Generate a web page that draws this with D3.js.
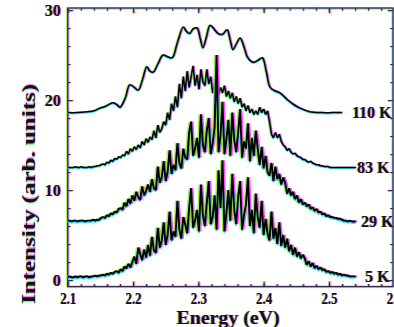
<!DOCTYPE html>
<html>
<head>
<meta charset="utf-8">
<script src="https://cdn.jsdelivr.net/npm/d3@7"></script>
<style>
  html, body { margin: 0; padding: 0; background: #fff; overflow: hidden; }
  svg { display: block; }
</style>
</head>
<body>
<div id="chart"></div>
<script>
const energyStart = 2.1;
const energyStep = 0.003;

const int5K = [
  0.3,0.4,0.3,0.3,0.4,0.3,0.4,0.4,0.3,0.4,0.4,0.3,0.4,0.4,0.5,0.4,0.5,
  0.5,0.6,0.5,0.7,0.6,0.8,0.7,0.9,1.0,0.8,
  1.2,1.0,1.5,1.3,1.8,1.4,2.0,
  2.6,1.8,3.6,2.9,2.2,3.4,2.5,
  3.9,2.7,4.8,3.3,3.0,5.8,3.6,4.4,6.4,3.9,
  5.0,7.6,4.4,5.4,4.8,8.8,5.6,4.6,7.0,6.2,
  5.2,8.0,10.2,5.8,6.6,7.8,5.4,10.6,7.2,6.0,
  8.6,11.0,6.2,7.0,9.4,5.6,12.2,8.0,13.3,5.4,7.4,10.0,6.6,11.8,7.8,6.2,
  9.2,11.0,5.6,7.2,8.4,11.4,6.0,7.8,5.2,9.6,7.0,5.8,8.8,5.0,
  6.8,5.2,4.4,7.6,4.6,5.8,4.0,6.4,3.8,5.0,
  3.6,4.6,3.2,3.9,2.8,3.6,2.6,3.1,2.4,2.8,
  2.4,1.7,2.1,1.5,1.9,1.3,1.6,1.2,1.4,1.1,
  1.2,0.9,1.0,0.8,0.9,0.7,0.8,0.6,0.7,0.5,
  0.6,0.5,0.5,0.4,0.4,0.4,0.4
];

const int29K = [
  6.6,6.6,6.5,6.6,6.6,6.5,6.6,6.6,6.6,6.5,6.6,6.6,6.6,6.7,6.6,6.7,6.7,
  6.9,7.0,6.9,7.2,7.1,7.4,7.3,7.6,7.5,7.9,
  8.0,7.8,8.6,8.2,9.0,8.5,9.4,
  8.8,9.8,9.2,8.9,10.4,9.4,9.9,
  10.6,9.8,11.2,10.2,10.0,12.6,10.8,11.4,13.2,11.0,
  12.0,14.4,11.8,12.8,12.2,15.2,13.0,12.4,14.6,13.6,
  13.4,16.4,17.6,13.8,14.6,15.8,13.6,18.4,15.0,14.2,
  16.6,18.0,14.0,15.2,17.0,25.0,14.2,16.0,19.8,14.0,15.6,17.8,13.8,18.6,15.6,14.2,
  16.4,19.0,13.6,15.4,14.6,17.4,13.2,15.8,13.8,16.6,14.6,12.8,14.8,12.4,
  13.8,12.0,11.6,13.0,11.0,12.6,11.2,11.8,10.6,11.4,
  10.8,9.6,10.2,9.4,9.8,9.0,9.4,8.6,9.0,8.4,
  8.6,8.2,8.4,7.9,8.1,7.7,7.9,7.5,7.6,7.3,
  7.4,7.1,7.2,7.0,7.0,6.9,6.9,6.8,6.8,6.7,
  6.6,6.6,6.5,6.6,6.5,6.5,6.5
];

const int83K = [
  12.5,12.5,12.5,12.5,12.6,12.5,12.5,12.6,12.5,12.5,12.5,12.6,12.5,12.6,12.6,12.7,12.7,
  12.8,12.9,12.8,13.1,13.0,13.3,13.2,13.5,13.4,13.7,
  13.6,13.9,13.8,14.3,14.0,14.6,14.3,
  14.8,14.5,15.0,14.7,15.4,15.0,15.7,
  15.3,15.9,15.6,16.6,15.8,17.2,16.4,16.8,17.6,17.2,
  18.6,17.8,19.6,18.8,20.4,19.2,21.8,20.2,22.6,21.0,
  23.2,21.4,22.6,23.8,21.6,22.8,21.2,23.4,22.0,21.6,
  23.4,21.8,22.6,20.8,21.8,23.6,20.6,21.4,20.8,21.6,20.4,21.0,20.2,20.8,19.8,20.4,
  19.6,20.2,19.2,19.6,18.8,19.4,18.6,19.0,18.4,18.8,18.4,19.2,18.6,19.0,
  18.4,18.8,17.6,16.2,15.8,16.4,15.8,16.2,15.4,15.0,
  14.8,14.4,14.6,14.2,14.0,14.1,13.8,13.7,13.6,13.4,
  13.4,13.2,13.1,13.2,13.0,12.9,12.8,12.8,12.7,12.7,
  12.6,12.6,12.6,12.5,12.5,12.5,12.5,12.5,12.5,12.5,
  12.5,12.5,12.5,12.5,12.5,12.5,12.5
];

// 110 K is smooth, so it gets its own energy points
const energy110K = [
  2.100, 2.115, 2.130, 2.140, 2.149, 2.158, 2.169, 2.175, 2.180, 2.188,
  2.195, 2.202, 2.208, 2.215, 2.221, 2.226, 2.231, 2.238, 2.246, 2.253,
  2.260, 2.268, 2.277, 2.282, 2.287, 2.292, 2.298, 2.303, 2.307, 2.312,
  2.318, 2.324, 2.330, 2.337, 2.344, 2.349, 2.353, 2.358, 2.364, 2.370,
  2.375, 2.384, 2.391, 2.398, 2.404, 2.410, 2.418, 2.425, 2.437, 2.446,
  2.456, 2.471, 2.490, 2.505, 2.520
];
const int110K = [
  18.6, 18.6, 18.7, 18.8, 19.1, 19.3, 19.7, 19.5, 19.2, 20.2,
  21.7, 21.4, 21.1, 22.4, 23.7, 23.2, 23.1, 24.0, 25.0, 24.8,
  24.7, 26.4, 28.1, 27.6, 27.4, 27.9, 28.0, 26.8, 25.8, 26.9,
  28.3, 27.9, 27.4, 27.3, 27.8, 26.6, 25.6, 26.2, 26.9, 25.9,
  24.8, 24.2, 24.4, 24.7, 23.2, 21.4, 21.0, 20.8, 20.0, 19.5,
  19.1, 18.7, 18.6, 18.6, 18.6
];

const seriesLabels = ['110 K', '83 K', '29 K', '5 K'];
const xTicks = [2.1, 2.2, 2.3, 2.4, 2.5, 2.6];
const yTicks = [0, 10, 20, 30];
const xTitle = 'Energy (eV)';
const yTitle = 'Intensity (arb. units)';

const width = 394;
const height = 327;
const frame = { left: 67.7, right: 393, top: 8, bottom: 286.5 };
const serif = '"Liberation Serif", "Times New Roman", "DejaVu Serif", serif';
const fringeShadow = '1px 0 rgba(255,0,255,0.5), -1px 0 rgba(60,230,80,0.5)';

const x = d3.scaleLinear().domain([2.1, 2.6]).range([67.7, 394.2]);
const y = d3.scaleLinear().domain([0, 30]).range([280, 10]);

const svg = d3.select('#chart')
  .append('svg')
  .attr('width', width)
  .attr('height', height);

// colour fringes of the scanned figure
const fringes = [
  { dx: 1, dy: 0, color: '#ff2cff' },
  { dx: -1, dy: 0, color: '#86f020' },
  { dx: 0, dy: 1, color: '#20d8ff' }
];

// Frame + ticks, drawn once per fringe colour and once dark
const layers = fringes.map(f => ({ ...f, opacity: 0.75 }))
  .concat([{ dx: 0, dy: 0, color: '#3a2450', opacity: 1 }]);

layers.forEach(L => {
  const g = svg.append('g')
    .attr('transform', `translate(${L.dx},${L.dy})`)
    .attr('opacity', L.opacity);

  g.append('rect')
    .attr('x', frame.left).attr('y', frame.top)
    .attr('width', frame.right - frame.left)
    .attr('height', frame.bottom - frame.top)
    .attr('fill', 'none')
    .attr('stroke', L.color)
    .attr('stroke-width', 1.2);

  const minorX = d3.range(2.12, 2.6, 0.02);
  const minorY = d3.range(2, 30, 2);
  const axes = [
    { ax: d3.axisBottom(x).tickValues(xTicks).tickSizeInner(-5), t: `translate(0,${frame.bottom})` },
    { ax: d3.axisBottom(x).tickValues(minorX).tickSizeInner(-2.5), t: `translate(0,${frame.bottom})` },
    { ax: d3.axisTop(x).tickValues(xTicks).tickSizeInner(-5), t: `translate(0,${frame.top})` },
    { ax: d3.axisTop(x).tickValues(minorX).tickSizeInner(-2.5), t: `translate(0,${frame.top})` },
    { ax: d3.axisLeft(y).tickValues(yTicks).tickSizeInner(-5), t: `translate(${frame.left},0)` },
    { ax: d3.axisLeft(y).tickValues(minorY).tickSizeInner(-2.5), t: `translate(${frame.left},0)` },
    { ax: d3.axisRight(y).tickValues(yTicks).tickSizeInner(-5), t: `translate(${frame.right},0)` },
    { ax: d3.axisRight(y).tickValues(minorY).tickSizeInner(-2.5), t: `translate(${frame.right},0)` }
  ];
  axes.forEach(a => {
    g.append('g')
      .attr('transform', a.t)
      .call(a.ax.tickSizeOuter(0).tickFormat(''))
      .call(s => s.select('.domain').remove())
      .call(s => s.selectAll('.tick line').attr('stroke', L.color).attr('stroke-width', 1))
      .call(s => s.selectAll('.tick text').remove());
  });
});

// Tick labels
svg.append('g')
  .attr('transform', `translate(0,${frame.bottom})`)
  .call(d3.axisBottom(x).tickValues(xTicks).tickSize(0).tickPadding(6).tickFormat(d3.format('.1f')))
  .call(g => g.select('.domain').remove())
  .call(g => g.selectAll('.tick text')
    .attr('font-size', 16)
    .attr('textLength', 16)
    .attr('lengthAdjust', 'spacingAndGlyphs'));

svg.append('g')
  .attr('transform', `translate(${frame.left},0)`)
  .call(d3.axisLeft(y).tickValues(yTicks).tickSize(0).tickPadding(7).tickFormat(d3.format('d')))
  .call(g => g.select('.domain').remove())
  .call(g => g.selectAll('.tick text').attr('font-size', 16));

// Axis titles
svg.append('text')
  .attr('x', 228).attr('y', 324)
  .attr('text-anchor', 'middle')
  .attr('font-size', 19.5)
  .attr('textLength', 103)
  .attr('lengthAdjust', 'spacingAndGlyphs')
  .text(xTitle);

svg.append('text')
  .attr('transform', 'translate(35,194) rotate(-90)')
  .attr('text-anchor', 'middle')
  .attr('font-size', 18)
  .attr('textLength', 220)
  .attr('lengthAdjust', 'spacingAndGlyphs')
  .text(yTitle);

// Spectra
const gridLine = d3.line()
  .x((d, i) => x(energyStart + i * energyStep))
  .y(d => y(d));
const line110 = d3.line()
  .curve(d3.curveCatmullRom.alpha(0.5))
  .x((d, i) => x(energy110K[i]))
  .y(d => y(d));

// noisy spectra get wider strokes and wider colour fringes
const spectra = [
  { path: line110(int110K), label: seriesLabels[0], ly: int110K[int110K.length - 1], lx: 352, w: 1.5, spread: 1 },
  { path: gridLine(int83K), label: seriesLabels[1], ly: int83K[int83K.length - 1], lx: 357, w: 1.5, spread: 1 },
  { path: gridLine(int29K), label: seriesLabels[2], ly: int29K[int29K.length - 1], lx: 361, w: 1.9, spread: 1.5 },
  { path: gridLine(int5K), label: seriesLabels[3], ly: int5K[int5K.length - 1], lx: 365, w: 1.9, spread: 1.5 }
];

const plot = svg.append('g');
spectra.forEach(s => {
  fringes.forEach(f => {
    plot.append('path')
      .attr('d', s.path)
      .attr('transform', `translate(${f.dx * s.spread},${f.dy * s.spread})`)
      .attr('fill', 'none')
      .attr('stroke', f.color)
      .attr('stroke-width', s.w)
      .attr('stroke-linejoin', 'bevel')
      .attr('opacity', 0.85);
  });
  plot.append('path')
    .attr('d', s.path)
    .attr('fill', 'none')
    .attr('stroke', '#000')
    .attr('stroke-linejoin', 'bevel')
    .attr('stroke-width', s.w);

  svg.append('text')
    .attr('x', s.lx)
    .attr('y', y(s.ly))
    .attr('dy', '0.35em')
    .attr('font-size', 16)
    .text(s.label);
});

// all text: bold serif, black with slight colour fringes
svg.selectAll('text')
  .attr('font-family', null)
  .style('font-family', serif)
  .style('font-weight', 'bold')
  .style('fill', '#111')
  .style('text-shadow', fringeShadow);
</script>
</body>
</html>
